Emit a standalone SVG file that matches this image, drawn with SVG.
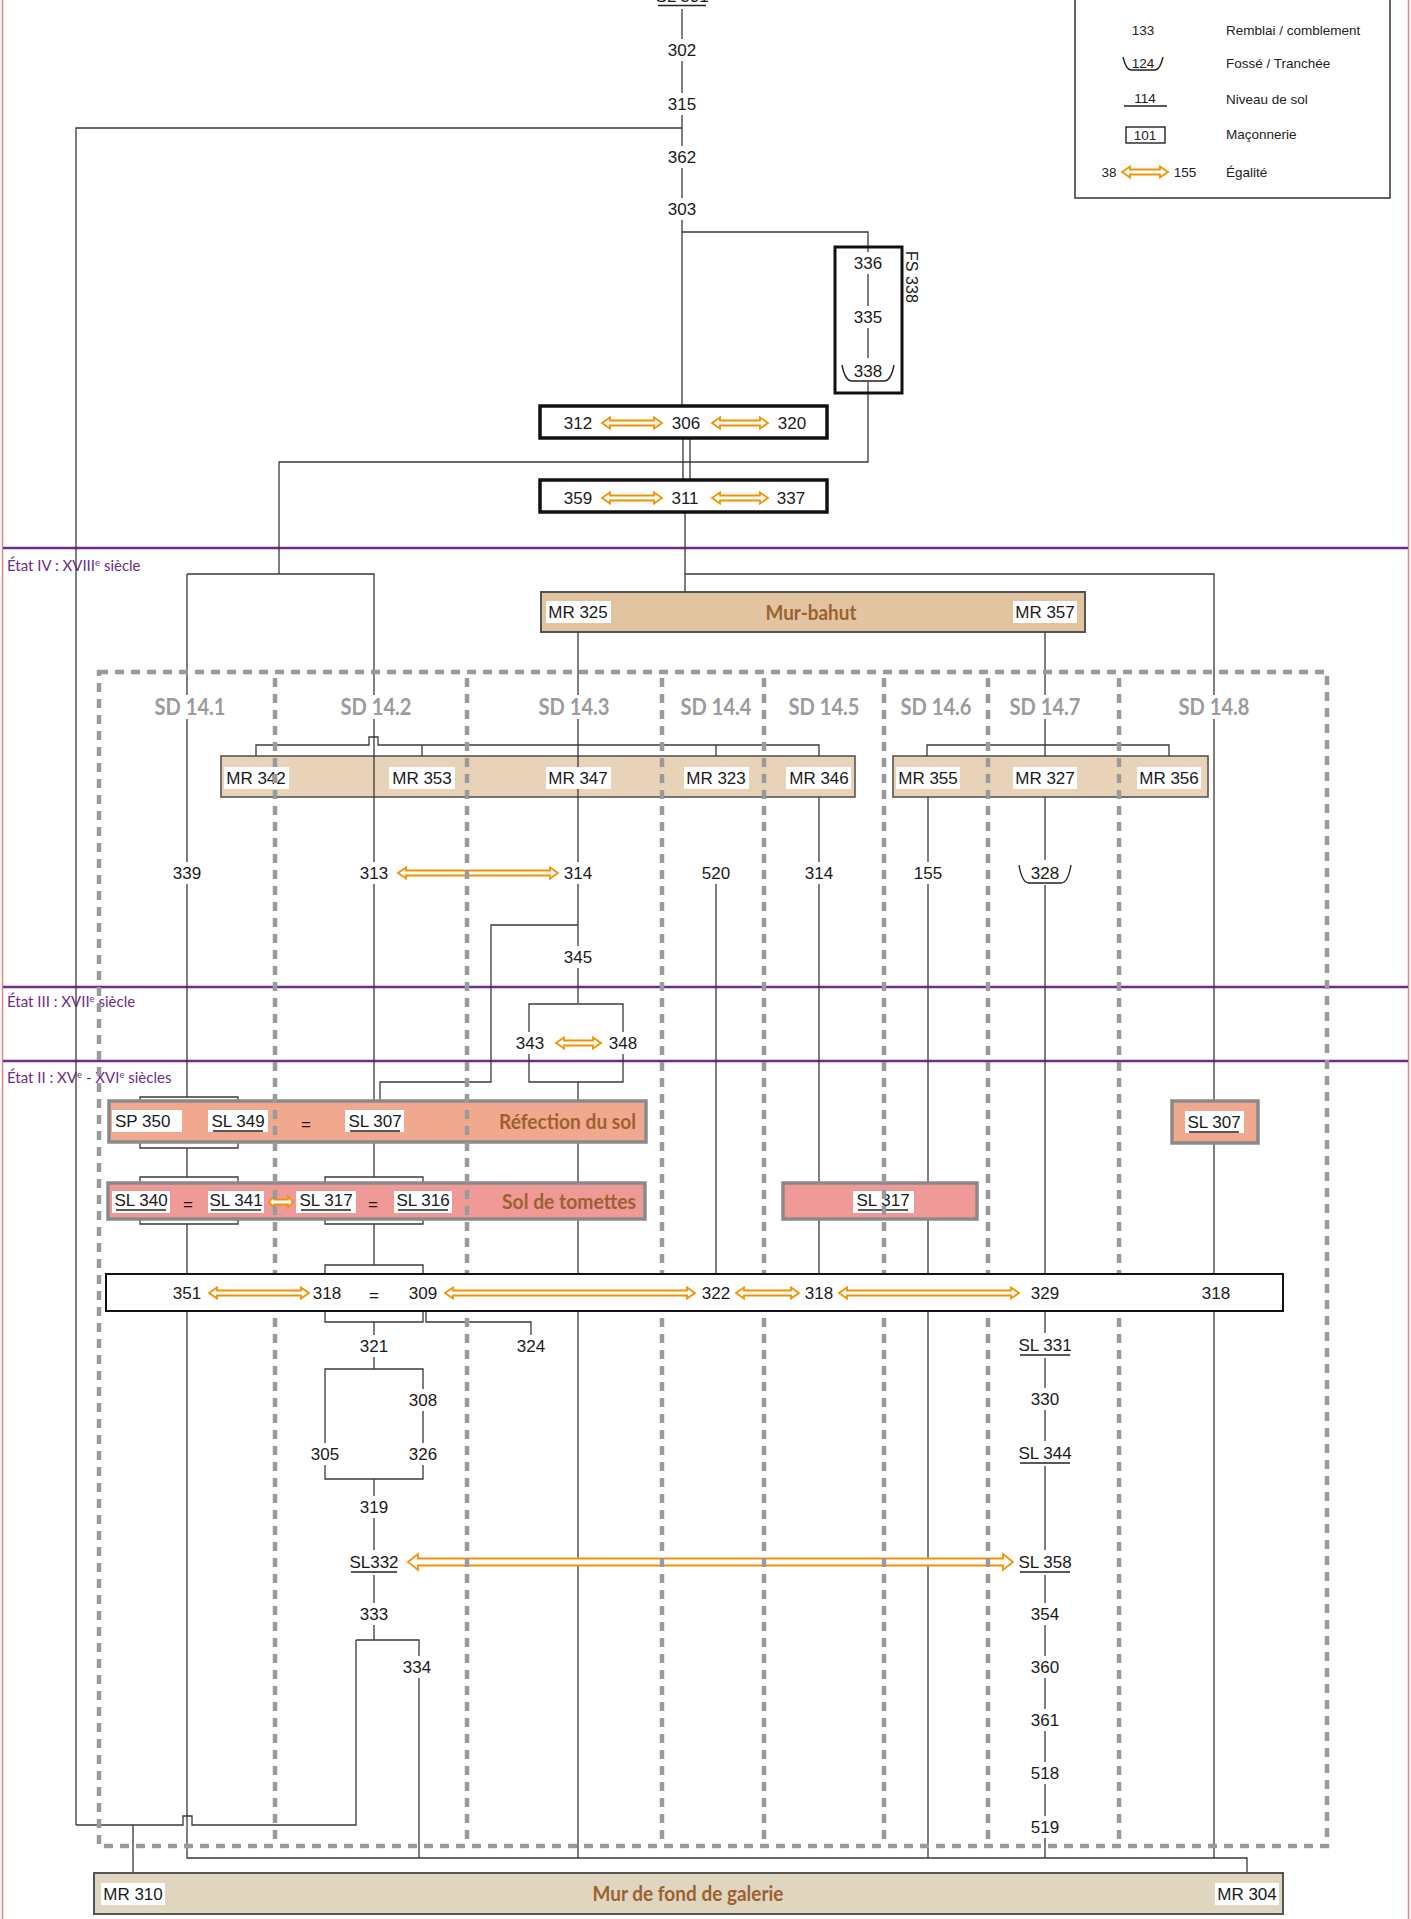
<svg xmlns="http://www.w3.org/2000/svg" width="1411" height="1919" viewBox="0 0 1411 1919">
<style>
.n{font-family:"Liberation Sans",Arial,sans-serif;font-size:17px;text-anchor:middle;fill:#1a1a1a}
.ns{font-family:"Liberation Sans",Arial,sans-serif;font-size:17px;fill:#1a1a1a}
.lg{font-family:"Liberation Sans",Arial,sans-serif;font-size:13.5px;fill:#222}
.st{font-family:Lato,"Open Sans",sans-serif;font-size:15px;fill:#6b2d8c}
.sd{font-family:Lato,"Open Sans",sans-serif;font-weight:bold;font-size:22px;fill:#9b9b9b;text-anchor:middle}
.tt{font-family:Lato,"Open Sans",sans-serif;font-weight:bold;font-size:20px;fill:#9d6130}
.bg{fill:#fff}
.c{fill:none;stroke:#3a3a3a;stroke-width:1.3}
.eq{fill:#fff;stroke:#f39200;stroke-width:1.8}
.ul{stroke:#222;stroke-width:1.6}
.fo{fill:none;stroke:#222;stroke-width:1.4}
.dash{fill:none;stroke:#9a9a9a;stroke-width:4.5;stroke-dasharray:9 7}
.ph{stroke:#6b2d8c;stroke-width:2.5}
.mr{fill:#e8d3b9;stroke:#555;stroke-width:1.6}
.ref{fill:#f0a98f;stroke:#8a8a8a;stroke-width:3.5}
.tom{fill:#ef9a97;stroke:#8a8a8a;stroke-width:3.5}
</style>
<rect width="1411" height="1919" fill="#fff"/>
<g id="frame">
<line x1="2.5" y1="0" x2="2.5" y2="1919" stroke="#ee7f80" stroke-width="1.5"/>
<line x1="1408.5" y1="0" x2="1408.5" y2="1919" stroke="#ee7f80" stroke-width="1.5"/>
</g>
<g id="periods">
<line class="ph" x1="3" y1="548" x2="1408" y2="548"/>
<line class="ph" x1="3" y1="987" x2="1408" y2="987"/>
<line class="ph" x1="3" y1="1061" x2="1408" y2="1061"/>
<text class="st" x="7" y="571">État IV : XVIII<tspan font-size="9.5" dy="-5">e</tspan><tspan dy="5"> siècle</tspan></text>
<text class="st" x="7" y="1007">État III : XVII<tspan font-size="9.5" dy="-5">e</tspan><tspan dy="5"> siècle</tspan></text>
<text class="st" x="7" y="1083">État II : XV<tspan font-size="9.5" dy="-5">e</tspan><tspan dy="5"> - XVI</tspan><tspan font-size="9.5" dy="-5">e</tspan><tspan dy="5"> siècles</tspan></text>
</g>
<g id="legend">
<rect x="1075" y="-3" width="315" height="201" fill="#fff" stroke="#333" stroke-width="1.5"/>
<text class="lg" x="1143" y="35" text-anchor="middle">133</text>
<text class="lg" x="1226" y="35">Remblai / comblement</text>
<text class="lg" x="1143" y="68" text-anchor="middle">124</text>
<path class="fo" d="M1123,57 Q1126,70 1131,70 H1155 Q1160,70 1163,57"/>
<text class="lg" x="1226" y="68">Fossé / Tranchée</text>
<text class="lg" x="1145" y="103" text-anchor="middle">114</text>
<line class="ul" x1="1124" y1="106" x2="1167" y2="106"/>
<text class="lg" x="1226" y="104">Niveau de sol</text>
<rect x="1126" y="127" width="39" height="16" fill="none" stroke="#222" stroke-width="1.4"/>
<text class="lg" x="1145" y="140" text-anchor="middle">101</text>
<text class="lg" x="1226" y="139">Maçonnerie</text>
<text class="lg" x="1109" y="177" text-anchor="middle">38</text>
<path class="eq" d="M1122,172 L1130,166.5 V169.5 H1160 V166.5 L1168,172 L1160,177.5 V174.5 H1130 V177.5 Z"/>
<text class="lg" x="1185" y="177" text-anchor="middle">155</text>
<text class="lg" x="1226" y="177">Égalité</text>
</g>
<g id="mur-bahut">
<rect x="541" y="592" width="544" height="40" fill="#e2c5a0" stroke="#555" stroke-width="2"/>
<text class="tt" x="811" y="620" text-anchor="middle" textLength="91" lengthAdjust="spacingAndGlyphs">Mur-bahut</text>
<rect class="bg" x="546" y="601" width="65" height="22"/><text class="n" x="578" y="618">MR 325</text>
<rect class="bg" x="1013" y="601" width="64" height="22"/><text class="n" x="1045" y="618">MR 357</text>
</g>
<g id="mr-group-1">
<rect class="mr" x="221" y="756" width="634" height="41"/>
</g>
<g id="mr-group-2">
<rect class="mr" x="893" y="756" width="315" height="41"/>
</g>
<g id="connectors">
<path class="c" d="M682,9 V406"/>
<path class="c" d="M682,128 H76 V1825"/>
<path class="c" d="M682,232 H868 V462 H279 V574"/>
<path class="c" d="M683,438 V480 M690,438 V480"/>
<path class="c" d="M685,512 V592 M685,574 H1214 V1101"/>
<path class="c" d="M187,574 H374 V1102"/>
<path class="c" d="M256,756 V745 H369 V737 H378 V745 H819 V756 M422,745 V756 M716,745 V756"/>
<path class="c" d="M578,632 V1003 M529,1043 V1004 H623 V1043 M529,1043 V1082 H623 V1043 M578,1082 V1858"/>
<path class="c" d="M578,925 H491 V1082 H380 V1102"/>
<path class="c" d="M187,574 V1097 M140,1102 V1097 H238 V1102 M140,1142 V1148 H238 V1142 M187,1148 V1177 M140,1184 V1177 H238 V1184 M140,1218 V1224 H238 V1218 M187,1224 V1858 H1247 V1873"/>
<path class="c" d="M356,1640 V1825 H192 V1816 H183 V1825 H76 M133,1825 V1873"/>
<path class="c" d="M374,1142 V1177 M325,1184 V1177 H423 V1184 M325,1218 V1224 H423 V1218 M374,1224 V1265 M325,1274 V1265 H423 V1274 M325,1311 V1322 H423 V1311 M374,1322 V1369 M426,1311 V1322 H531 V1346 M325,1454 V1369 H423 V1454 M325,1454 V1479 H423 V1454 M374,1479 V1640 M356,1640 H419 V1858"/>
<path class="c" d="M716,873 V1274"/>
<path class="c" d="M819,797 V1183 M819,1219 V1274"/>
<path class="c" d="M928,797 V1858"/>
<path class="c" d="M1045,632 V756 M927,756 V745 H1169 V756 M1045,797 V1858"/>
<path class="c" d="M1214,1143 V1858"/>
<path class="eq" d="M398,873 L406,867.5 V870.5 H550 V867.5 L558,873 L550,878.5 V875.5 H406 V878.5 Z"/>
<path class="eq" d="M556,1043 L564,1037.5 V1040.5 H593 V1037.5 L601,1043 L593,1048.5 V1045.5 H564 V1048.5 Z"/>
<path class="eq" d="M408,1562 L418,1554 V1558.5 H1003 V1554 L1013,1562 L1003,1570 V1565.5 H418 V1570 Z"/>
</g>
<g id="mr-labels">
<rect class="bg" x="224" y="767" width="65" height="22"/><text class="n" x="256" y="784">MR 342</text>
<rect class="bg" x="389" y="767" width="66" height="22"/><text class="n" x="422" y="784">MR 353</text>
<rect class="bg" x="546" y="767" width="65" height="22"/><text class="n" x="578" y="784">MR 347</text>
<rect class="bg" x="684" y="767" width="65" height="22"/><text class="n" x="716" y="784">MR 323</text>
<rect class="bg" x="786" y="767" width="65" height="22"/><text class="n" x="819" y="784">MR 346</text>
<rect class="bg" x="896" y="767" width="64" height="22"/><text class="n" x="928" y="784">MR 355</text>
<rect class="bg" x="1013" y="767" width="64" height="22"/><text class="n" x="1045" y="784">MR 327</text>
<rect class="bg" x="1137" y="767" width="64" height="22"/><text class="n" x="1169" y="784">MR 356</text>
</g>
<g id="fs338">
<rect x="835" y="247" width="67" height="146" fill="none" stroke="#111" stroke-width="3"/>
<text class="ns" font-size="20" transform="translate(906,251) rotate(90)" textLength="52" lengthAdjust="spacingAndGlyphs">FS 338</text>
</g>
<g id="n301"><rect class="bg" x="652" y="-20" width="60" height="27"/><text class="n" x="682" y="2">SL 301</text><line class="ul" x1="658" y1="5.5" x2="706" y2="5.5"/></g>
<g id="n302"><rect class="bg" x="666" y="39" width="32" height="22"/><text class="n" x="682" y="56">302</text></g>
<g id="n315"><rect class="bg" x="666" y="93" width="32" height="22"/><text class="n" x="682" y="110">315</text></g>
<g id="n362"><rect class="bg" x="666" y="146" width="32" height="22"/><text class="n" x="682" y="163">362</text></g>
<g id="n303"><rect class="bg" x="666" y="198" width="32" height="22"/><text class="n" x="682" y="215">303</text></g>
<g id="n336"><rect class="bg" x="852" y="252" width="32" height="22"/><text class="n" x="868" y="269">336</text></g>
<g id="n335"><rect class="bg" x="852" y="306" width="32" height="22"/><text class="n" x="868" y="323">335</text></g>
<g id="n338"><rect class="bg" x="843" y="358" width="50" height="24"/><text class="n" x="868" y="377">338</text><path class="fo" d="M842,365 Q845,381 852,381 H884 Q891,381 894,365"/></g>
<g id="eq-306">
<rect x="540" y="406" width="287" height="32" fill="#fff" stroke="#111" stroke-width="3.5"/>
<text class="n" x="578" y="429">312</text><text class="n" x="686" y="429">306</text><text class="n" x="792" y="429">320</text>
<path class="eq" d="M602,423 L610,417.5 V420.5 H654 V417.5 L662,423 L654,428.5 V425.5 H610 V428.5 Z"/>
<path class="eq" d="M712,423 L720,417.5 V420.5 H760 V417.5 L768,423 L760,428.5 V425.5 H720 V428.5 Z"/>
</g>
<g id="eq-311">
<rect x="540" y="480" width="287" height="32" fill="#fff" stroke="#111" stroke-width="3.5"/>
<text class="n" x="578" y="504">359</text><text class="n" x="685" y="504">311</text><text class="n" x="791" y="504">337</text>
<path class="eq" d="M602,498 L610,492.5 V495.5 H654 V492.5 L662,498 L654,503.5 V500.5 H610 V503.5 Z"/>
<path class="eq" d="M712,498 L720,492.5 V495.5 H760 V492.5 L768,498 L760,503.5 V500.5 H720 V503.5 Z"/>
</g>
<g id="n339"><rect class="bg" x="171" y="862" width="32" height="22"/><text class="n" x="187" y="879">339</text></g>
<g id="n313"><rect class="bg" x="358" y="862" width="32" height="22"/><text class="n" x="374" y="879">313</text></g>
<g id="n314a"><rect class="bg" x="562" y="862" width="32" height="22"/><text class="n" x="578" y="879">314</text></g>
<g id="n520"><rect class="bg" x="700" y="862" width="32" height="22"/><text class="n" x="716" y="879">520</text></g>
<g id="n314b"><rect class="bg" x="803" y="862" width="32" height="22"/><text class="n" x="819" y="879">314</text></g>
<g id="n155"><rect class="bg" x="912" y="862" width="32" height="22"/><text class="n" x="928" y="879">155</text></g>
<g id="n328"><rect class="bg" x="1018" y="860" width="54" height="25"/><text class="n" x="1045" y="879">328</text><path class="fo" d="M1019,865 Q1022,883 1029,883 H1061 Q1068,883 1071,865"/></g>
<g id="n345"><rect class="bg" x="562" y="946" width="32" height="22"/><text class="n" x="578" y="963">345</text></g>
<g id="n343"><rect class="bg" x="514" y="1032" width="32" height="22"/><text class="n" x="530" y="1049">343</text></g>
<g id="n348"><rect class="bg" x="607" y="1032" width="32" height="22"/><text class="n" x="623" y="1049">348</text></g>
<g id="refection">
<rect class="ref" x="109" y="1101" width="537" height="41"/>
<rect class="bg" x="112" y="1110" width="70" height="22"/><text class="ns" x="115" y="1127">SP 350</text>
<rect class="bg" x="208" y="1110" width="60" height="22"/><text class="n" x="238" y="1127">SL 349</text><line class="ul" x1="213" y1="1131" x2="263" y2="1131"/>
<text class="n" x="306" y="1130">=</text>
<rect class="bg" x="345" y="1110" width="59" height="22"/><text class="n" x="375" y="1127">SL 307</text><line class="ul" x1="350" y1="1131" x2="400" y2="1131"/>
<text class="tt" x="636" y="1129" text-anchor="end" textLength="137" lengthAdjust="spacingAndGlyphs">Réfection du sol</text>
</g>
<g id="tomettes">
<rect class="tom" x="108" y="1183" width="537" height="36"/>
<rect class="bg" x="112" y="1191" width="58" height="22"/><text class="n" x="141" y="1206">SL 340</text><line class="ul" x1="116" y1="1210" x2="166" y2="1210"/>
<text class="n" x="188" y="1210">=</text>
<rect class="bg" x="208" y="1191" width="56" height="22"/><text class="n" x="236" y="1206">SL 341</text><line class="ul" x1="211" y1="1210" x2="261" y2="1210"/>
<path class="eq" d="M269,1202 L274,1196.5 V1199.5 H288 V1196.5 L293,1202 L288,1207.5 V1204.5 H274 V1207.5 Z"/>
<rect class="bg" x="296" y="1191" width="60" height="22"/><text class="n" x="326" y="1206">SL 317</text><line class="ul" x1="301" y1="1210" x2="351" y2="1210"/>
<text class="n" x="373" y="1210">=</text>
<rect class="bg" x="394" y="1191" width="58" height="22"/><text class="n" x="423" y="1206">SL 316</text><line class="ul" x1="398" y1="1210" x2="448" y2="1210"/>
<text class="tt" x="636" y="1209" text-anchor="end" textLength="134" lengthAdjust="spacingAndGlyphs">Sol de tomettes</text>
</g>
<g id="sl317-sd145">
<rect class="tom" x="783" y="1183" width="194" height="36"/>
<rect class="bg" x="853" y="1191" width="61" height="22"/><text class="n" x="883" y="1206">SL 317</text><line class="ul" x1="858" y1="1210" x2="908" y2="1210"/>
</g>
<g id="sl307-sd148">
<rect class="ref" x="1172" y="1101" width="86" height="42"/>
<rect class="bg" x="1185" y="1111" width="59" height="22"/><text class="n" x="1214" y="1128">SL 307</text><line class="ul" x1="1189" y1="1132" x2="1239" y2="1132"/>
</g>
<g id="sondages">
<rect class="dash" x="99" y="672" width="1228" height="1174"/>
<path class="dash" d="M275,678 V1846 M467,678 V1846 M662,678 V1846 M764,678 V1846 M884,678 V1846 M988,678 V1846 M1119,678 V1846"/>
<rect class="bg" x="154" y="695" width="72" height="24"/><text class="sd" x="190" y="715" textLength="71" lengthAdjust="spacingAndGlyphs">SD 14.1</text>
<rect class="bg" x="340" y="695" width="72" height="24"/><text class="sd" x="376" y="715" textLength="71" lengthAdjust="spacingAndGlyphs">SD 14.2</text>
<rect class="bg" x="538" y="695" width="72" height="24"/><text class="sd" x="574" y="715" textLength="71" lengthAdjust="spacingAndGlyphs">SD 14.3</text>
<text class="sd" x="716" y="715" textLength="71" lengthAdjust="spacingAndGlyphs">SD 14.4</text>
<text class="sd" x="824" y="715" textLength="71" lengthAdjust="spacingAndGlyphs">SD 14.5</text>
<text class="sd" x="936" y="715" textLength="71" lengthAdjust="spacingAndGlyphs">SD 14.6</text>
<rect class="bg" x="1009" y="695" width="72" height="24"/><text class="sd" x="1045" y="715" textLength="71" lengthAdjust="spacingAndGlyphs">SD 14.7</text>
<rect class="bg" x="1178" y="695" width="72" height="24"/><text class="sd" x="1214" y="715" textLength="71" lengthAdjust="spacingAndGlyphs">SD 14.8</text>
</g>
<g id="eq-318">
<rect x="106" y="1274" width="1177" height="37" fill="#fff" stroke="#111" stroke-width="2"/>
<text class="n" x="187" y="1299">351</text>
<path class="eq" d="M209,1293 L217,1287.5 V1290.5 H301 V1287.5 L309,1293 L301,1298.5 V1295.5 H217 V1298.5 Z"/>
<text class="n" x="327" y="1299">318</text>
<text class="n" x="374" y="1301">=</text>
<text class="n" x="423" y="1299">309</text>
<path class="eq" d="M445,1293 L453,1287.5 V1290.5 H687 V1287.5 L695,1293 L687,1298.5 V1295.5 H453 V1298.5 Z"/>
<text class="n" x="716" y="1299">322</text>
<path class="eq" d="M736,1293 L744,1287.5 V1290.5 H791 V1287.5 L799,1293 L791,1298.5 V1295.5 H744 V1298.5 Z"/>
<text class="n" x="819" y="1299">318</text>
<path class="eq" d="M839,1293 L847,1287.5 V1290.5 H1011 V1287.5 L1019,1293 L1011,1298.5 V1295.5 H847 V1298.5 Z"/>
<text class="n" x="1045" y="1299">329</text>
<text class="n" x="1216" y="1299">318</text>
</g>
<g id="n321"><rect class="bg" x="358" y="1335" width="32" height="22"/><text class="n" x="374" y="1352">321</text></g>
<g id="n324"><rect class="bg" x="515" y="1335" width="32" height="22"/><text class="n" x="531" y="1352">324</text></g>
<g id="n308"><rect class="bg" x="407" y="1389" width="32" height="22"/><text class="n" x="423" y="1406">308</text></g>
<g id="n305"><rect class="bg" x="309" y="1443" width="32" height="22"/><text class="n" x="325" y="1460">305</text></g>
<g id="n326"><rect class="bg" x="407" y="1443" width="32" height="22"/><text class="n" x="423" y="1460">326</text></g>
<g id="n319"><rect class="bg" x="358" y="1496" width="32" height="22"/><text class="n" x="374" y="1513">319</text></g>
<g id="n332"><rect class="bg" x="348" y="1550" width="52" height="25"/><text class="n" x="374" y="1568">SL332</text><line class="ul" x1="351" y1="1572" x2="397" y2="1572"/></g>
<g id="n333"><rect class="bg" x="358" y="1603" width="32" height="22"/><text class="n" x="374" y="1620">333</text></g>
<g id="n334"><rect class="bg" x="401" y="1656" width="32" height="22"/><text class="n" x="417" y="1673">334</text></g>
<g id="n331"><rect class="bg" x="1017" y="1333" width="56" height="25"/><text class="n" x="1045" y="1351">SL 331</text><line class="ul" x1="1020" y1="1355" x2="1070" y2="1355"/></g>
<g id="n330"><rect class="bg" x="1029" y="1388" width="32" height="22"/><text class="n" x="1045" y="1405">330</text></g>
<g id="n344"><rect class="bg" x="1017" y="1441" width="56" height="25"/><text class="n" x="1045" y="1459">SL 344</text><line class="ul" x1="1020" y1="1463" x2="1070" y2="1463"/></g>
<g id="n358"><rect class="bg" x="1017" y="1550" width="56" height="25"/><text class="n" x="1045" y="1568">SL 358</text><line class="ul" x1="1020" y1="1572" x2="1070" y2="1572"/></g>
<g id="n354"><rect class="bg" x="1029" y="1603" width="32" height="22"/><text class="n" x="1045" y="1620">354</text></g>
<g id="n360"><rect class="bg" x="1029" y="1656" width="32" height="22"/><text class="n" x="1045" y="1673">360</text></g>
<g id="n361"><rect class="bg" x="1029" y="1709" width="32" height="22"/><text class="n" x="1045" y="1726">361</text></g>
<g id="n518"><rect class="bg" x="1029" y="1762" width="32" height="22"/><text class="n" x="1045" y="1779">518</text></g>
<g id="n519"><rect class="bg" x="1029" y="1816" width="32" height="22"/><text class="n" x="1045" y="1833">519</text></g>
<g id="mur-fond">
<rect x="94" y="1873" width="1189" height="41" fill="#e0d6bf" stroke="#555" stroke-width="2"/>
<rect class="bg" x="101" y="1883" width="64" height="22"/><text class="n" x="133" y="1900">MR 310</text>
<rect class="bg" x="1215" y="1883" width="64" height="22"/><text class="n" x="1247" y="1900">MR 304</text>
<text class="tt" x="688" y="1901" text-anchor="middle" textLength="191" lengthAdjust="spacingAndGlyphs">Mur de fond de galerie</text>
</g>
</svg>
